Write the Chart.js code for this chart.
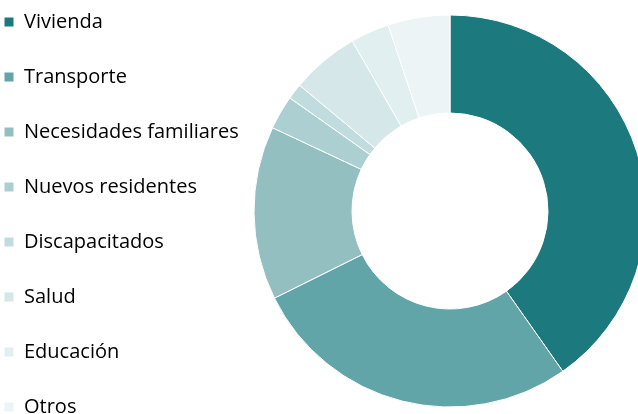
<!DOCTYPE html>
<html>
<head>
<meta charset="utf-8">
<script src="https://cdn.jsdelivr.net/npm/chart.js@4.4.1/dist/chart.umd.min.js"></script>
<style>
    html, body {
        margin: 0;
        padding: 0;
        width: 638px;
        height: 414px;
        overflow: hidden;
        background: #fff;
    }
    #wrap {
        position: absolute;
        left: -31px;
        top: -23px;
    }
</style>
</head>
<body>
<div id="wrap">
    <canvas id="myChart" width="692" height="480"></canvas>
</div>
<script>
    const categories = [
        "Vivienda",
        "Transporte",
        "Necesidades familiares",
        "Nuevos residentes",
        "Discapacitados",
        "Salud",
        "Educación",
        "Otros",
    ];
    const shares = [40.2, 27.4, 14.3, 2.8, 1.3, 5.6, 3.2, 5.1];
    const sliceColors = [
        "#1C7A7E",
        "#62A5A8",
        "#93BFC1",
        "#ACCFD1",
        "#C1DCDE",
        "#D5E7E8",
        "#E2EFF0",
        "#ECF4F6",
    ];

    const ctx = document.getElementById("myChart");
    const chart = new Chart(ctx, {
        type: "doughnut",
        data: {
            labels: categories,
            datasets: [
                {
                    data: shares,
                    backgroundColor: sliceColors,
                    borderColor: "#ffffff",
                    borderWidth: 1,
                    hoverOffset: 0,
                },
            ],
        },
        options: {
            responsive: false,
            animation: false,
            cutout: "50%",
            radius: 196,
            layout: {
                padding: 0,
            },
            plugins: {
                legend: {
                    position: "left",
                    align: "start",
                    maxWidth: 270,
                    labels: {
                        boxWidth: 10,
                        boxHeight: 10,
                        padding: 35,
                        color: "#000",
                        font: {
                            family: "'Open Sans', sans-serif",
                            size: 20,
                        },
                    },
                },
                // empty bottom box, only to move the ring centre up
                title: {
                    display: true,
                    position: "bottom",
                    text: "",
                    padding: 0,
                    font: {
                        size: 12,
                        lineHeight: 1,
                    },
                },
                tooltip: {
                    enabled: false,
                },
            },
        },
    });
</script>
</body>
</html>
